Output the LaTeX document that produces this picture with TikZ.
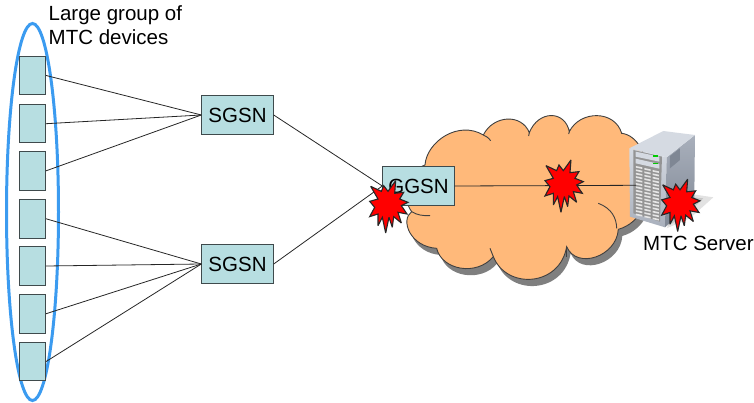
\documentclass[tikz,border=0pt]{standalone}
\usepackage{fontspec}
\usetikzlibrary{shapes.geometric}
\setmainfont{Liberation Sans}
\definecolor{boxfill}{HTML}{B7DEE1}
\definecolor{boxline}{HTML}{3F4A4C}
\definecolor{cloudfill}{HTML}{FFB97A}
\definecolor{ovalblue}{HTML}{3B9BF0}
\definecolor{shadowgray}{HTML}{7F7F7F}
\definecolor{srvlight}{HTML}{D5DAE2}
\definecolor{srvmid}{HTML}{A9B0BC}
\definecolor{srvdark}{HTML}{7F8794}
\tikzset{
  x=1pt,y=-1pt,
  lbl/.style={font=\fontsize{20.5}{24}\selectfont,inner sep=0pt,text=black},
  devbox/.style={draw=boxline,line width=0.9pt,fill=boxfill,minimum width=26pt,minimum height=38.5pt,inner sep=0pt},
  netbox/.style={draw=boxline,line width=0.9pt,fill=boxfill,minimum width=71.5pt,minimum height=38.5pt,inner sep=0pt,font=\fontsize{20.5}{24}\selectfont},
  link/.style={draw=black!85,line width=0.8pt},
  zoomed/.style={xshift=370pt,yshift=-100pt,x=0.3333pt,y=-0.3333pt},
  cloudline/.style={draw=black!75,line width=0.9pt},
  burst/.pic={
    \draw[draw=black!85,fill=red,line width=1.1pt,x=0.3333pt,y=-0.3333pt,line join=miter,miter limit=3]
     (-52,-53)--(-20,-38)--(-13,-55)--(0,-38)--(23,-70)--(20,-32)--(47,-35)--(35,-15)--(60,-5)--(40,5)--(57,30)--(30,25)--(40,57)--(17,38)--(13,70)--(3,40)--(-7,87)--(-17,40)--(-30,65)--(-30,30)--(-55,38)--(-40,10)--(-55,-8)--(-30,-15)--cycle;
  }
}
\def\cloudpath{(165,195)
 .. controls (170,125) and (265,60) .. (340,105)
 .. controls (370,45) and (455,40) .. (478,98)
 .. controls (505,30) and (585,30) .. (598,95)
 .. controls (630,30) and (735,30) .. (755,100)
 .. controls (850,110) and (880,350) .. (745,388)
 .. controls (740,470) and (620,510) .. (590,440)
 .. controls (570,560) and (410,570) .. (370,470)
 .. controls (320,530) and (215,510) .. (200,445)
 .. controls (120,440) and (90,360) .. (125,335)
 .. controls (90,290) and (120,210) .. (165,195) -- cycle}
\begin{document}
\begin{tikzpicture}
\useasboundingbox (0,0) rectangle (754,403);
% group oval
\node[draw=ovalblue,line width=3pt,ellipse,minimum width=52pt,minimum height=377pt,inner sep=0pt] (oval) at (32.5,212) {};
% cloud
\begin{scope}[zoomed]
 \fill[shadowgray] [shift={(12,20)}] \cloudpath;
 \path[fill=cloudfill,cloudline] \cloudpath;
 \draw[cloudline] (685,310) .. controls (725,325) and (740,355) .. (740,385);
 \draw[cloudline] (340,105) .. controls (348,108) and (355,113) .. (362,122);
 \draw[cloudline] (478,98) -- (476,108);
 \draw[cloudline] (598,95) -- (596,102);
 \draw[cloudline] (590,440) -- (590,470);
 \draw[cloudline] (370,470) -- (360,445);
 \draw[cloudline] (125,335) .. controls (140,345) and (160,348) .. (180,347);
 % server shadow
 \fill[black!25,opacity=.45] (950,280) -- (1030,292) -- (960,355) -- (890,385) -- cycle;
 \fill[black!35,opacity=.45] (950,290) -- (1000,295) -- (950,345) -- (890,380) -- cycle;
 % server body
 \shade[top color=srvlight,bottom color=srvmid] (778,145) -- (890,172) -- (885,382) -- (780,350) -- cycle;
 \shade[top color=srvmid,bottom color=srvdark] (890,172) -- (975,105) -- (973,300) -- (885,382) -- cycle;
 \fill[srvlight] (778,145) -- (880,93) -- (975,105) -- (890,172) -- cycle;
 \fill[srvdark] (900,168) -- (930,145) -- (930,180) -- (900,205) -- cycle;
 % front panel
 \fill[black!42] (790,150) -- (876,170) -- (870,365) -- (790,340) -- cycle;
 \fill[srvlight] (797,155) -- (868,170) -- (868,185) -- (797,170) -- cycle;
 \fill[srvlight] (797,176) -- (868,192) -- (868,206) -- (797,190) -- cycle;
 \fill[green!80!black] (850,166) rectangle (863,171);
 \fill[green!80!black] (850,188) rectangle (863,193);
 \foreach \r in {0,...,14}{
  \foreach \c in {0,1,2}{
   \pgfmathsetmacro{\xa}{798+\c*25}
   \pgfmathsetmacro{\ya}{198+\r*10.2+(\c*25)*0.24}
   \fill[black!10] (\xa,\ya) -- (\xa+19,\ya+4) -- (\xa+19,\ya+9) -- (\xa,\ya+5) -- cycle;
  }
 }
\end{scope}
\coordinate (srv) at (636,185.3);
% boxes
\foreach \n/\y in {1/75.5,2/123.7,3/170.8,4/218.8,5/266,6/313.7,7/361.5}
  \node[devbox] (d\n) at (32.7,\y) {};
\node[netbox] (s1) at (237.5,115) {SGSN};
\node[netbox] (s2) at (237.5,264) {SGSN};
\node[netbox] (ggsn) at (418.5,186) {GGSN};
% connectors
\foreach \n in {1,2,3} \draw[link] (d\n.east) -- (s1.west);
\foreach \n in {4,5,6,7} \draw[link] (d\n.east) -- (s2.west);
\draw[link] (s1.east) -- (ggsn.west);
\draw[link] (s2.east) -- (ggsn.west);
\draw[link] (ggsn.east) -- (srv);
% bursts
\pic at (388,204) {burst};
\pic at (563.3,183.3) {burst};
\pic at (680,202.5) {burst};
% labels
\node[lbl,anchor=base west] (t1) at (48.5,21) {Large group of};
\node[lbl,anchor=base west] (t2) at (48.5,45) {MTC devices};
\node[lbl,anchor=base west] (t3) at (643,250) {MTC Server};
\end{tikzpicture}
\end{document}
